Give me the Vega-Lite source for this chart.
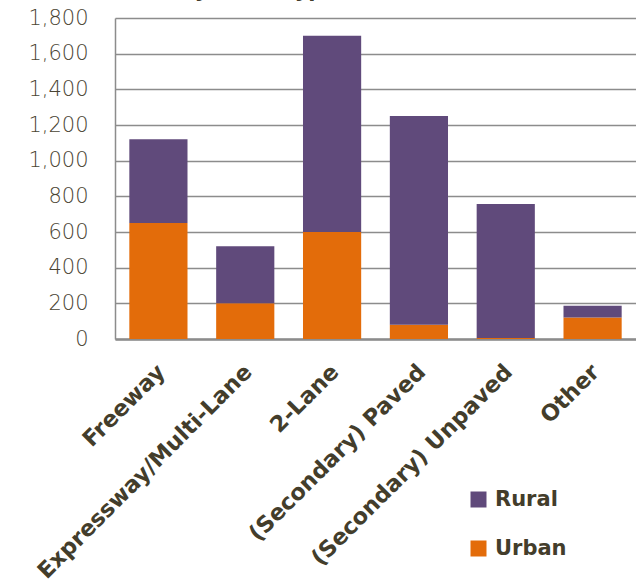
{
  "$schema": "https://vega.github.io/schema/vega-lite/v6.json",
  "autosize": "none",
  "width": 521,
  "height": 321,
  "padding": {"left": 115, "top": 18, "right": 0, "bottom": 243},
  "background": "white",
  "title": {
    "text": "Area and by Road Type",
    "anchor": "start",
    "dx": 38,
    "offset": 6,
    "font": "DejaVu Sans",
    "fontSize": 21,
    "fontWeight": "bold",
    "color": "#433d2b"
  },
  "data": {
    "values": [
      {"road": "Freeway", "area": "Urban", "miles": 650},
      {"road": "Freeway", "area": "Rural", "miles": 470},
      {"road": "Expressway/Multi-Lane", "area": "Urban", "miles": 200},
      {"road": "Expressway/Multi-Lane", "area": "Rural", "miles": 320},
      {"road": "2-Lane", "area": "Urban", "miles": 600},
      {"road": "2-Lane", "area": "Rural", "miles": 1100},
      {"road": "(Secondary) Paved", "area": "Urban", "miles": 80},
      {"road": "(Secondary) Paved", "area": "Rural", "miles": 1170},
      {"road": "(Secondary) Unpaved", "area": "Urban", "miles": 5},
      {"road": "(Secondary) Unpaved", "area": "Rural", "miles": 752},
      {"road": "Other", "area": "Urban", "miles": 120},
      {"road": "Other", "area": "Rural", "miles": 67}
    ]
  },
  "mark": {"type": "bar"},
  "encoding": {
    "x": {
      "field": "road",
      "type": "nominal",
      "sort": null,
      "title": null,
      "scale": {"paddingInner": 0.33, "paddingOuter": 0.165},
      "axis": {
        "labelAngle": -45,
        "labelAlign": "right",
        "labelBaseline": "middle",
        "labelPadding": 29,
        "labelOffset": 3,
        "labelFont": "DejaVu Sans",
        "labelFontSize": 22.5,
        "labelFontWeight": "bold",
        "labelColor": "#433d2b",
        "labelOverlap": false,
        "labelLimit": 500,
        "ticks": false,
        "domainColor": "#8c8c8c",
        "domainWidth": 2.5
      }
    },
    "y": {
      "field": "miles",
      "type": "quantitative",
      "title": null,
      "scale": {"domain": [0, 1800], "nice": false},
      "axis": {
        "values": [0, 200, 400, 600, 800, 1000, 1200, 1400, 1600, 1800],
        "format": ",d",
        "labelFont": "DejaVu Sans",
        "labelFontSize": 21,
        "labelFontWeight": 300,
        "labelColor": "#4a4433",
        "labelPadding": 27,
        "ticks": false,
        "domainColor": "#8c8c8c",
        "domainWidth": 1.5,
        "gridColor": "#8c8c8c",
        "gridWidth": 1.5
      }
    },
    "color": {
      "field": "area",
      "type": "nominal",
      "scale": {"domain": ["Rural", "Urban"], "range": ["#604a7b", "#e36c0a"]},
      "legend": {
        "title": null,
        "orient": "none",
        "legendX": 353,
        "legendY": 471,
        "symbolType": "square",
        "symbolSize": 256,
        "symbolStrokeWidth": 0,
        "labelFont": "DejaVu Sans",
        "labelFontSize": 21,
        "labelFontWeight": "bold",
        "labelColor": "#433d2b",
        "rowPadding": 27,
        "labelOffset": 6
      }
    },
    "order": {"field": "area", "sort": "descending"}
  },
  "config": {"view": {"stroke": null}}
}
